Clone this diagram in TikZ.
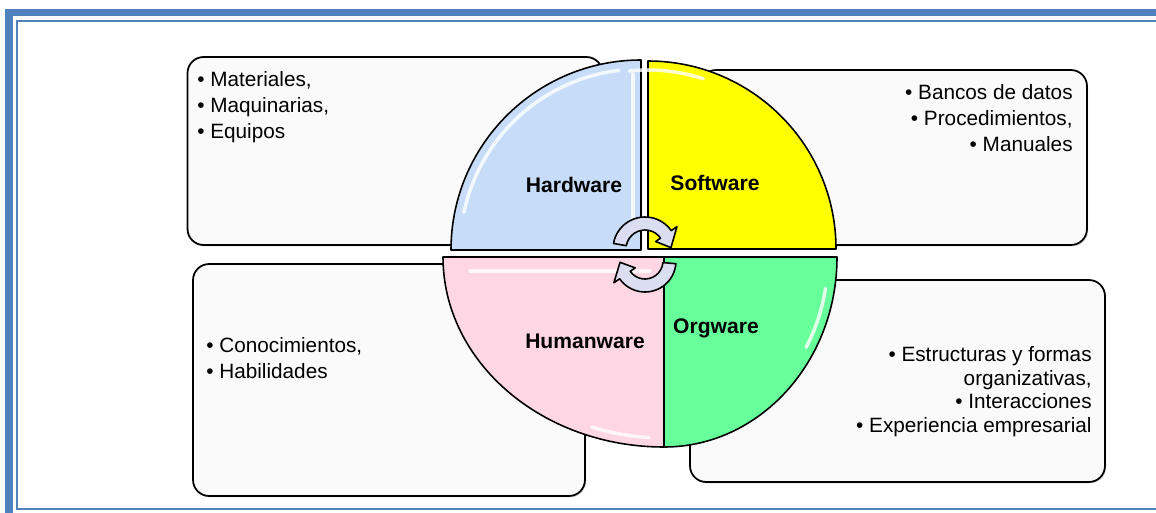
\documentclass[tikz,border=0pt]{standalone}
\usepackage{fontspec}
\setmainfont{Liberation Sans}
\usetikzlibrary{calc,shadows}
\definecolor{frameblue}{RGB}{79,129,189}
\definecolor{hwblue}{RGB}{198,220,248}
\definecolor{swyellow}{RGB}{255,255,0}
\definecolor{hupink}{RGB}{255,214,228}
\definecolor{oggreen}{RGB}{102,255,153}
\definecolor{cyclefill}{RGB}{218,222,240}
\tikzset{
    infobox/.style={rectangle, draw, fill=black!2, rounded corners=0.32cm, line width=1pt, drop shadow={shadow xshift=0.6pt, shadow yshift=-0.8pt, fill=black!35}},
    bullets/.style={inner sep=0pt, font=\fontsize{11.8}{14.7}\selectfont},
    slice/.style={draw, line width=0.9pt, line join=round},
    gloss/.style={white, line width=2pt, line cap=round, opacity=0.8},
    slicelabel/.style={font=\fontsize{12}{14}\selectfont\bfseries, anchor=base},
    cyclearrow/.style={draw, fill=cyclefill, line width=0.9pt, line join=round},
    framethick/.style={draw=frameblue, line width=4.3pt},
    framethin/.style={draw=frameblue, line width=1.1pt}
}

\begin{document}
\begin{tikzpicture}[x=0.02cm, y=0.02cm]
    \useasboundingbox (0,0) rectangle (1156,512);
    \draw [framethick] (9,-40) rectangle (1200,499.5);
    \draw [framethin] (17,3) rectangle (1180,491);

    \node [infobox, minimum width=8.3cm, minimum height=3.76cm] (hwbox) at (395,361) {};
    \node [infobox, minimum width=7.74cm, minimum height=3.5cm] (swbox) at (893.5,354.5) {};
    \node [infobox, minimum width=7.84cm, minimum height=4.64cm] (hubox) at (389,132) {};
    \node [infobox, minimum width=8.3cm, minimum height=4.04cm] (ogbox) at (897.5,131) {};

    \draw [slice, fill=hwblue] (641,262) -- (451,262) arc[start angle=180, end angle=90, radius=190] -- cycle;
    \draw [slice, fill=swyellow] (648,263) -- (648,451) arc[start angle=90, end angle=0, radius=188] -- cycle;
    \draw [slice, fill=hupink] (664,255) -- (443,255) arc[start angle=180, end angle=270, x radius=221, y radius=190] -- cycle;
    \draw [slice, fill=oggreen] (664,255) -- (664,65) arc[start angle=270, end angle=360, x radius=173, y radius=190] -- cycle;

    \draw [gloss] ($(641,262)+(168:181)$) arc[start angle=168, end angle=97, radius=181];
    \draw [gloss] (633,285) -- (633,438);
    \draw [gloss] ($(648,263)+(96:179)$) arc[start angle=96, end angle=72, radius=179];
    \draw [gloss] (470,241) -- (650,241);
    \draw [gloss] ($(664,255)+(250:211 and 181)$) arc[start angle=250, end angle=266, x radius=211, y radius=181];
    \draw [gloss] ($(664,255)+(350:164 and 181)$) arc[start angle=350, end angle=330, x radius=164, y radius=181];

    \coordinate (topc) at (645,263);
    \coordinate (botc) at (645,251);
    \draw [cyclearrow] ($(topc)+(170:32)$) arc[start angle=170, end angle=35, radius=32] -- ($(topc)+(35:39)$) -- ($(topc)+(3:26)$) -- ($(topc)+(35:13)$) -- ($(topc)+(35:19)$) arc[start angle=35, end angle=170, radius=19] -- cycle;
    \draw [cyclearrow] ($(botc)+(-5:31)$) arc[start angle=-5, end angle=-145, radius=31] -- ($(botc)+(-145:38)$) -- ($(botc)+(-177:25)$) -- ($(botc)+(-145:12)$) -- ($(botc)+(-145:18)$) arc[start angle=-145, end angle=-5, radius=18] -- cycle;

    \node [slicelabel] (hwlabel) at (574,320) {Hardware};
    \node [slicelabel] (swlabel) at (715,322) {Software};
    \node [slicelabel] (hulabel) at (585,164) {Humanware};
    \node [slicelabel] (oglabel) at (716,179) {Orgware};

    \node [bullets, anchor=north west, align=left] (hwtext) at (197,441) {• Materiales,\\• Maquinarias,\\• Equipos};
    \node [bullets, anchor=north east, align=right] (swtext) at (1073,428) {• Bancos de datos\\• Procedimientos,\\• Manuales};
    \node [bullets, anchor=north west, align=left] (hutext) at (206,175) {• Conocimientos,\\• Habilidades};
    \node [bullets, anchor=north east, align=right, font=\fontsize{11.8}{13.5}\selectfont] (ogtext) at (1092,166) {• Estructuras y formas\\organizativas,\\• Interacciones\\• Experiencia empresarial};
\end{tikzpicture}
\end{document}
